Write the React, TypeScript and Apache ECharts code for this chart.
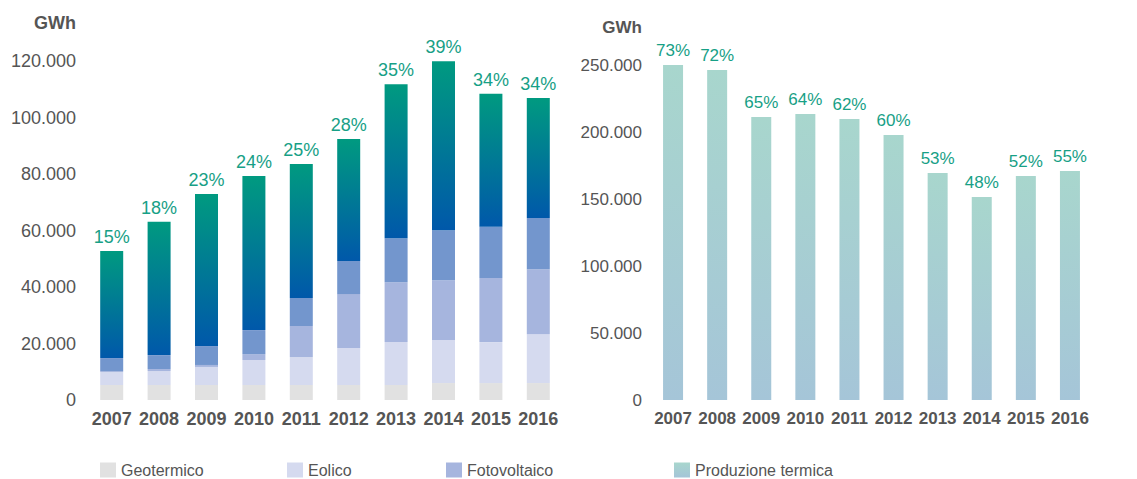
import React, { useEffect, useRef } from 'react';
import * as echarts from 'echarts';

const years = ['2007', '2008', '2009', '2010', '2011', '2012', '2013', '2014', '2015', '2016'];
const geotermico = [5300, 5300, 5300, 5300, 5300, 5300, 5300, 6000, 6000, 6000];
const eolico = [4600, 4950, 6400, 8850, 9900, 13100, 15200, 15200, 14500, 17300];
const fotovoltaico = [350, 700, 700, 2100, 11000, 19100, 21200, 21200, 22700, 23000];
const bioenergie = [4600, 4950, 6700, 8500, 9900, 11700, 15600, 17700, 18100, 18100];
const idroelettrico = [37900, 47200, 53800, 54500, 47400, 43200, 54500, 59800, 47100, 42500];
const quotaRinnovabili = ['15%', '18%', '23%', '24%', '25%', '28%', '35%', '39%', '34%', '34%'];
const termica = [250000, 246300, 211200, 213400, 209700, 197800, 169400, 151500, 167200, 170900];
const quotaTermica = ['73%', '72%', '65%', '64%', '62%', '60%', '53%', '48%', '52%', '55%'];
const unitLabel = 'GWh';

const FONT = '"Liberation Sans", Arial, Helvetica, sans-serif';
const fmt = (v: number) => String(v).replace(/\B(?=(\d{3})+(?!\d))/g, '.');

export default function App() {
  const ref = useRef<HTMLDivElement>(null);
  useEffect(() => {
    if (!ref.current) return;
    const chart = echarts.init(ref.current, undefined, { renderer: 'svg' });
    const hydroGrad = new echarts.graphic.LinearGradient(0, 0, 0, 1, [
      { offset: 0, color: '#009a80' },
      { offset: 1, color: '#0058aa' },
    ]);
    const thermGrad = new echarts.graphic.LinearGradient(0, 0, 0, 1, [
      { offset: 0, color: '#a8d6cd' },
      { offset: 1, color: '#a5c5d8' },
    ]);
    const legendText = { color: '#555', fontSize: 16, fontFamily: FONT };
    const mkLegend = (name: string, left: number) => ({
      data: [name],
      left,
      top: 462,
      padding: 0,
      itemWidth: 16,
      itemHeight: 15,
      itemGap: 0,
      icon: 'rect',
      selectedMode: false,
      textStyle: legendText,
    });
    const xAxisBase = (gridIndex: number, size: number, margin: number) => ({
      type: 'category',
      gridIndex,
      data: years,
      axisLine: { show: false },
      axisTick: { show: false },
      axisLabel: { color: '#555', fontSize: size, fontWeight: 'bold', fontFamily: FONT, margin, interval: 0 },
    });
    chart.setOption({
      animation: false,
      textStyle: { fontFamily: FONT },
      legend: [
        mkLegend('Geotermico', 100),
        mkLegend('Eolico', 287),
        mkLegend('Fotovoltaico', 446),
        mkLegend('Produzione termica', 674),
      ],
      grid: [
        { left: 88, right: 575, top: 61, bottom: 79 },
        { left: 651, right: 45, top: 65, bottom: 79 },
      ],
      xAxis: [xAxisBase(0, 18, 10), xAxisBase(1, 17, 10)],
      yAxis: [
        {
          type: 'value',
          gridIndex: 0,
          min: 0,
          max: 120000,
          interval: 20000,
          splitLine: { show: false },
          axisLine: { show: false },
          axisTick: { show: false },
          axisLabel: { color: '#555', fontSize: 18, fontFamily: FONT, margin: 12, formatter: fmt },
        },
        {
          type: 'value',
          gridIndex: 1,
          min: 0,
          max: 250000,
          interval: 50000,
          splitLine: { show: false },
          axisLine: { show: false },
          axisTick: { show: false },
          axisLabel: { color: '#555', fontSize: 17, fontFamily: FONT, margin: 9, formatter: fmt },
        },
      ],
      graphic: [
        {
          type: 'text',
          x: 76,
          y: 23,
          style: { text: unitLabel, align: 'right', verticalAlign: 'middle', font: `bold 18px ${FONT}`, fill: '#555' },
        },
        {
          type: 'text',
          x: 642,
          y: 27,
          style: { text: unitLabel, align: 'right', verticalAlign: 'middle', font: `bold 17px ${FONT}`, fill: '#555' },
        },
      ],
      series: [
        { name: 'Geotermico', type: 'bar', stack: 'r', barWidth: 23, data: geotermico, itemStyle: { color: '#e1e1e1' } },
        { name: 'Eolico', type: 'bar', stack: 'r', barWidth: 23, data: eolico, itemStyle: { color: '#d5daef' } },
        { name: 'Fotovoltaico', type: 'bar', stack: 'r', barWidth: 23, data: fotovoltaico, itemStyle: { color: '#a6b5de' } },
        { name: 'Bioenergie', type: 'bar', stack: 'r', barWidth: 23, data: bioenergie, itemStyle: { color: '#7396cd' } },
        {
          name: 'Idroelettrico',
          type: 'bar',
          stack: 'r',
          barWidth: 23,
          data: idroelettrico,
          itemStyle: { color: hydroGrad },
          label: {
            show: true,
            position: 'top',
            distance: 5,
            color: '#17a086',
            fontSize: 18,
            fontFamily: FONT,
            formatter: (p: any) => quotaRinnovabili[p.dataIndex],
          },
        },
        {
          name: 'Produzione termica',
          type: 'bar',
          xAxisIndex: 1,
          yAxisIndex: 1,
          barWidth: 20,
          data: termica,
          itemStyle: { color: thermGrad },
          label: {
            show: true,
            position: 'top',
            distance: 6,
            color: '#17a086',
            fontSize: 17,
            fontFamily: FONT,
            formatter: (p: any) => quotaTermica[p.dataIndex],
          },
        },
      ],
    });
    return () => chart.dispose();
  }, []);
  return <div ref={ref} style={{ position: 'fixed', left: 0, top: 0, width: 1137, height: 479, background: '#fff' }} />;
}
